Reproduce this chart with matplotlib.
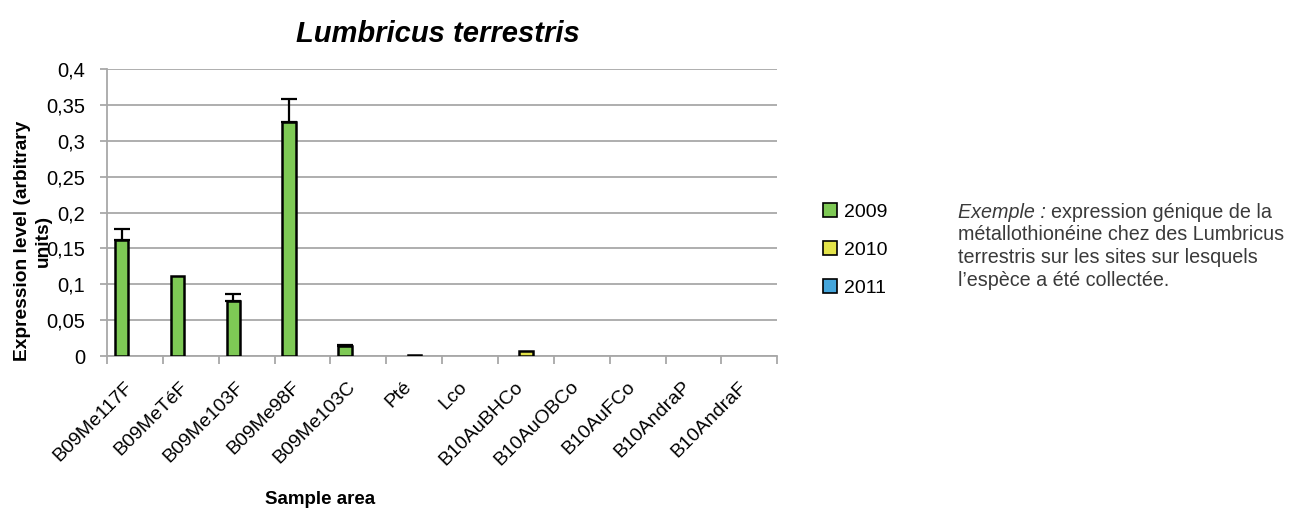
import numpy as np
import matplotlib
matplotlib.use("Agg")
import matplotlib.pyplot as plt
from matplotlib.ticker import FuncFormatter

sites = ["B09Me117F", "B09MeTéF", "B09Me103F", "B09Me98F", "B09Me103C", "Pté",
         "Lco", "B10AuBHCo", "B10AuOBCo", "B10AuFCo", "B10AndraP", "B10AndraF"]
years = ["2009", "2010", "2011"]
v2009 = [0.162, 0.111, 0.077, 0.327, 0.014, 0, 0, 0, 0, 0, 0, 0]
e2009 = [0.015, 0, 0.010, 0.031, 0.002, 0, 0, 0, 0, 0, 0, 0]
v2010 = [0, 0, 0, 0, 0, 0.002, 0, 0.007, 0, 0, 0, 0]
e2010 = [0] * 12
v2011 = [0] * 12
e2011 = [0] * 12
colors = ["#7ec955", "#e3e34a", "#45a6dc"]

plt.rcParams["font.family"] = ["Liberation Sans", "DejaVu Sans"]
fig = plt.figure(figsize=(12.91, 5.16), dpi=100)
ax = fig.add_axes([0.083, 0.31, 0.519, 0.556])

x = np.arange(len(sites))
w = 0.24
for i, (vals, errs) in enumerate([(v2009, e2009), (v2010, e2010), (v2011, e2011)]):
    vals = np.array(vals)
    lw = np.where(vals > 0, 1.8, 0)
    ax.bar(x + (i - 1) * w, vals, w, color=colors[i], edgecolor="black",
           linewidth=lw, label=years[i], zorder=3)
    errs = np.array(errs)
    m = errs > 0
    if m.any():
        ax.errorbar(x[m] + (i - 1) * w, vals[m], yerr=[np.zeros(m.sum()), errs[m]],
                    fmt="none", ecolor="black", elinewidth=1.6, capsize=6,
                    capthick=1.6, zorder=4)

ax.set_xlim(-0.5, len(sites) - 0.5)
ax.set_ylim(0, 0.4)
ax.set_yticks(np.arange(0, 0.401, 0.05))
ax.yaxis.set_major_formatter(FuncFormatter(lambda v, p: ("%g" % round(v, 2)).replace(".", ",")))
ax.yaxis.grid(True, color="#a8a8a8", linewidth=1.3, zorder=0)
ax.set_axisbelow(True)
for s in ["top", "right"]:
    ax.spines[s].set_visible(False)
for s in ["left", "bottom"]:
    ax.spines[s].set_color("#a8a8a8")
    ax.spines[s].set_linewidth(1.3)

# category separators as major ticks, labels on (slightly left-shifted) minor ticks
ax.set_xticks(np.arange(-0.5, len(sites), 1.0), minor=False)
ax.set_xticklabels([])
ax.set_xticks(x - 0.2, minor=True)
ax.set_xticklabels(sites, minor=True, rotation=45, ha="right", va="top",
                   rotation_mode="anchor", fontsize=14)
ax.tick_params(axis="x", which="major", length=6, color="#a8a8a8", width=1.3)
ax.tick_params(axis="x", which="minor", length=0, pad=16)
ax.tick_params(axis="y", length=5, color="#a8a8a8", width=1.3, labelsize=14.5, pad=11)

fig.text(0.339, 0.934, "Lumbricus terrestris", fontsize=21, fontweight="bold",
         style="italic", ha="center", va="center")
ax.set_xlabel("Sample area", fontsize=13.5, fontweight="bold")
ax.xaxis.set_label_coords(0.318, -0.47)
ax.set_ylabel("Expression level (arbitrary\nunits)", fontsize=13.8, fontweight="bold",
              linespacing=1.25)
ax.yaxis.set_label_coords(-0.083, 0.40)

leg = fig.legend(loc="center left", bbox_to_anchor=(0.624, 0.516), frameon=False,
                 fontsize=14, handlelength=0.7, handleheight=0.7, labelspacing=1.05,
                 handletextpad=0.4)
for h in leg.legend_handles:
    h.set_edgecolor("black")
    h.set_linewidth(1.2)

tx, ty = 0.742, 0.606
t1 = fig.text(tx, ty, "Exemple :", fontsize=14.2, style="italic", color="#3a3a3a", va="top")
fig.canvas.draw()
bb = t1.get_window_extent().transformed(fig.transFigure.inverted())
fig.text(bb.x1 + 0.004, ty, "expression génique de la", fontsize=14.2, color="#3a3a3a", va="top")
fig.text(tx, ty - 0.042,
         "métallothionéine chez des Lumbricus\nterrestris sur les sites sur lesquels\n"
         "l’espèce a été collectée.",
         fontsize=14.2, color="#3a3a3a", va="top", linespacing=1.28)

fig.savefig("out.png", dpi=100)
